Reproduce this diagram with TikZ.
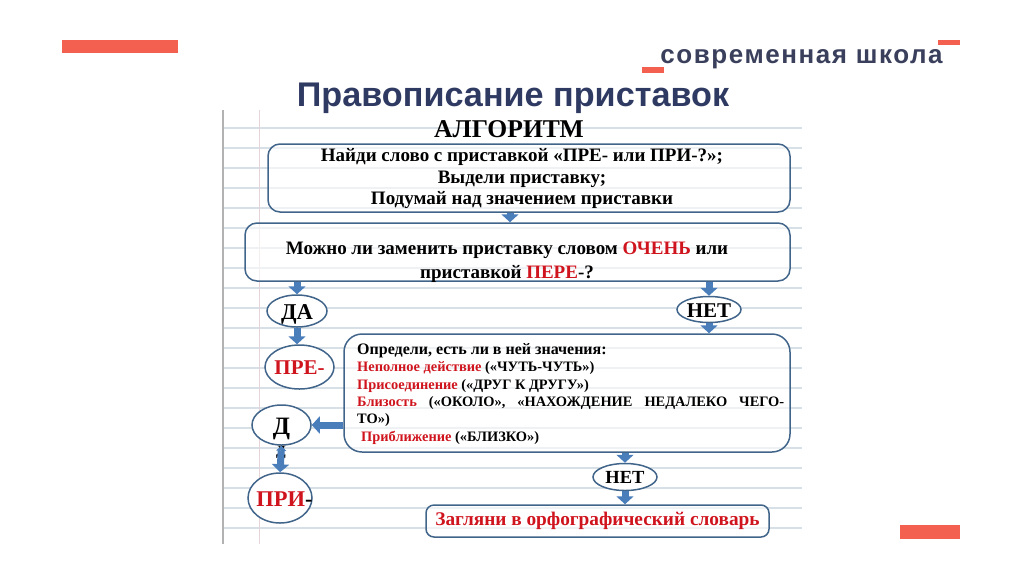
\documentclass[tikz,border=0pt]{standalone}
\usepackage{fontspec}
\setmainfont{Liberation Serif}
\newfontfamily\headfont{Liberation Sans}
\newfontfamily\brandfont[LetterSpace=6]{Liberation Sans}
\usetikzlibrary{arrows.meta,shapes.geometric}
\definecolor{coral}{HTML}{F4604F}
\definecolor{navy}{HTML}{2F3A63}
\definecolor{brandgrey}{HTML}{3A3F5C}
\definecolor{rim}{HTML}{41658A}
\definecolor{pointer}{HTML}{4A7EBB}
\definecolor{ruling}{HTML}{D6E0E6}
\definecolor{margin}{HTML}{E6D5D8}
\definecolor{wordred}{HTML}{D0141E}
\newcommand{\ovaltext}[1]{\makebox[0pt]{\raisebox{-0.36em}[0pt][0pt]{#1}}}
\tikzset{
	roundbox/.style={draw=rim, line width=1.5pt, fill=white, fill opacity=0.6, rectangle, rounded corners=#1, inner sep=0pt},
	oval/.style={draw=rim, line width=1.5pt, fill=white, ellipse, inner sep=0pt},
	pointerline/.style={draw=pointer, line width=7pt, -{Triangle[length=8pt,width=17pt]}},
	bothline/.style={draw=pointer, line width=7pt, {Triangle[length=5pt,width=10pt]}-{Triangle[length=8pt,width=17pt]}},
	bar/.style={fill=coral, draw=none},
}
\begin{document}
\begin{tikzpicture}[x=1pt, y=-1pt]
	\useasboundingbox (0,0) rectangle (1024,574);
	% sheet
	\foreach \rowy in {128,148,...,528}
		\draw[ruling, line width=1.1pt] (223,\rowy) -- (802,\rowy);
	\draw[margin, line width=1pt] (259,110) -- (259,544);
	\draw[black!30, line width=2pt] (223,110) -- (223,544);
	% slide decoration
	\fill[bar] (62,40) rectangle (178,53);
	\fill[bar] (938,40) rectangle (960,45);
	\fill[bar] (642,67) rectangle (664,73);
	\fill[bar] (900,525) rectangle (960,539);
	\node[inner sep=0pt, anchor=base, text=brandgrey] (brand) at (801.5,63) {\brandfont\fontsize{26}{30}\selectfont\bfseries современная школа};
	\node[inner sep=0pt, anchor=base, text=navy] (title) at (513,106) {\headfont\fontsize{34.2}{38}\selectfont\bfseries Правописание приставок};
	\node[inner sep=0pt, anchor=base] (algo) at (509,137) {\fontsize{25.6}{28}\selectfont\bfseries АЛГОРИТМ};
	% boxes
	\node[roundbox=12pt, minimum width=522pt, minimum height=68pt] (box1) at (529,178) {};
	\node[roundbox=12pt, minimum width=545pt, minimum height=58pt] (box2) at (517.5,252) {};
	\node[roundbox=18pt, minimum width=446pt, minimum height=118pt] (big) at (567,393) {};
	\node[roundbox=8pt, minimum width=343pt, minimum height=32pt] (last) at (597.5,521) {};
	% ovals
	\node[oval, minimum width=60pt, minimum height=32pt, font=\fontsize{22.6}{26}\selectfont\bfseries] (da) at (297,311) {\ovaltext{ДА}};
	\node[oval, minimum width=64pt, minimum height=26pt, font=\fontsize{21}{24}\selectfont\bfseries] (net) at (709,309.5) {\ovaltext{НЕТ}};
	\node[oval, minimum width=69pt, minimum height=44pt, text=wordred, font=\fontsize{21}{24}\selectfont\bfseries] (pre) at (299.5,367) {\ovaltext{ПРЕ-}};
	\node[oval, minimum width=59pt, minimum height=40pt, font=\fontsize{25}{28}\selectfont\bfseries] (d) at (281.5,425) {\ovaltext{Д}};
	\node[oval, minimum width=64pt, minimum height=50pt, font=\fontsize{22.5}{26}\selectfont\bfseries] (pri) at (280,498) {\ovaltext{\hspace{9pt}\textcolor{wordred}{ПРИ}-}};
	\node[oval, minimum width=64pt, minimum height=27pt, font=\fontsize{18.5}{22}\selectfont\bfseries] (net2) at (625,477) {\ovaltext{НЕТ}};
	% box texts
	\node[inner sep=0pt, align=center, font=\fontsize{19}{21.5}\selectfont\bfseries] (box1text) at (522,179) {Найди слово с приставкой «ПРЕ- или ПРИ-?»;\\Выдели приставку;\\Подумай над значением приставки};
	\node[inner sep=0pt, align=center, font=\fontsize{19}{24}\selectfont\bfseries] (box2text) at (507,262) {Можно ли заменить приставку словом \textcolor{wordred}{ОЧЕНЬ} или\\приставкой \textcolor{wordred}{ПЕРЕ}-?};
	\node[inner sep=0pt, align=left, anchor=north west, font=\fontsize{14.4}{17.4}\selectfont\bfseries] (bigtext) at (357,343) {{\fontsize{16}{17.4}\selectfont Определи, есть ли в ней значения:}\\
		\textcolor{wordred}{Неполное действие} («ЧУТЬ-ЧУТЬ»)\\
		\textcolor{wordred}{Присоединение} («ДРУГ К ДРУГУ»)\\
		\makebox[427pt][s]{\textcolor{wordred}{Близость} («ОКОЛО», «НАХОЖДЕНИЕ НЕДАЛЕКО ЧЕГО-}\\
		ТО»)\\
		\hspace*{4pt}\textcolor{wordred}{Приближение} («БЛИЗКО»)};
	\node[inner sep=0pt, text=wordred, font=\fontsize{19.3}{22}\selectfont\bfseries] (lasttext) at (597.5,521) {Загляни в орфографический словарь};
	% arrows
	\coordinate (link) at (510,218);
	\draw[pointerline] (box1.south -| link) -- (box2.north -| link);
	\draw[pointerline] (box2.south -| da.north) -- (da.north);
	\draw[pointerline] (box2.south -| net.north) -- (net.north);
	\draw[pointerline] (da.south) -- (pre.north -| da.south);
	\draw[pointerline] (net.south) -- (big.north -| net.south);
	\draw[pointerline] (big.west |- d.east) -- (d.east);
	\node[inner sep=0pt, font=\fontsize{14}{16}\selectfont\bfseries] (shadow) at (281,452) {Д};
	\draw[bothline] (d.south) -- (pri.north);
	\draw[pointerline] (big.south -| net2.north) -- (net2.north);
	\draw[pointerline] (net2.south) -- (last.north -| net2.south);
\end{tikzpicture}
\end{document}
